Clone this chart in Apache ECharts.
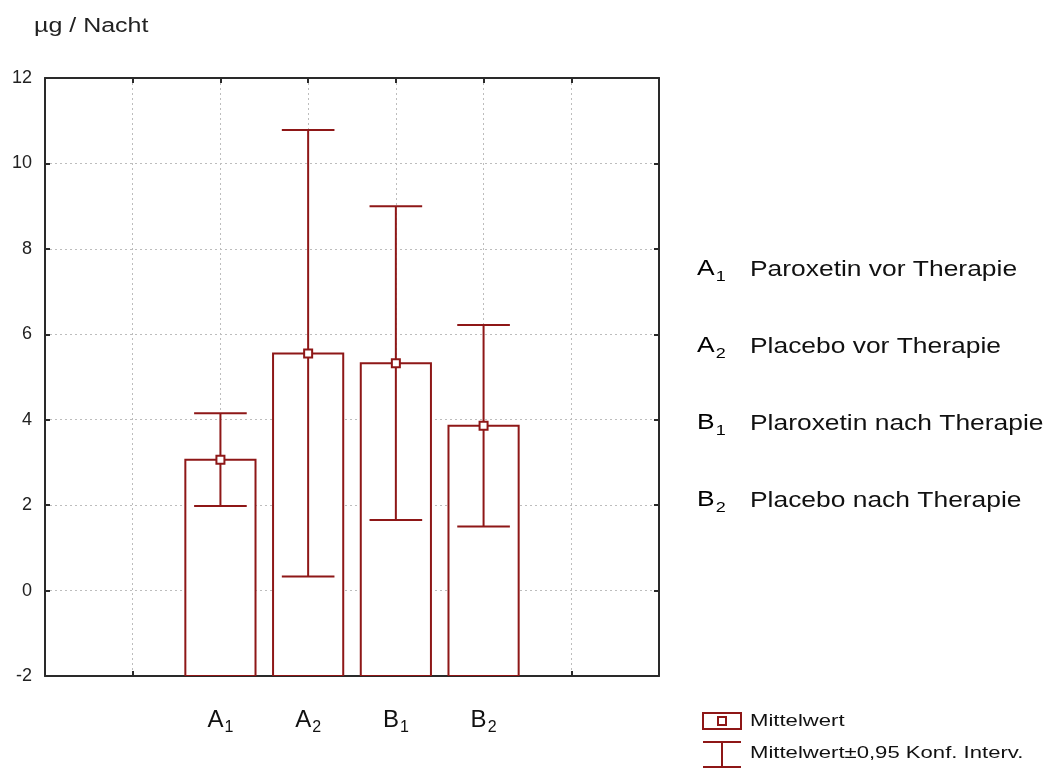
<!DOCTYPE html>
<html>
<head>
<meta charset="utf-8">
<script src="https://cdn.jsdelivr.net/npm/echarts@6/dist/echarts.min.js"></script>
<style>
  html, body { margin: 0; padding: 0; background: #fff; }
  #chart { width: 1051px; height: 769px; }
</style>
</head>
<body>
<div id="chart"></div>
<script>
  // Gruppen und Werte (Mittelwert, 95%-Konfidenzintervall)
  const categories = ['A1', 'A2', 'B1', 'B2'];
  const means = [3.06, 5.55, 5.32, 3.86];
  const ciLower = [1.98, 0.33, 1.65, 1.50];
  const ciUpper = [4.15, 10.78, 9.00, 6.22];
  const descriptions = [
    'Paroxetin vor Therapie',
    'Placebo vor Therapie',
    'Plaroxetin nach Therapie',
    'Placebo nach Therapie'
  ];
  const yTicks = [-2, 0, 2, 4, 6, 8, 10, 12];

  const RED = '#8e1717';
  const FRAME = '#2a2a2a';
  const TEXT = '#111';
  const FONT = 'Liberation Sans';
  const firstSlot = 2;   // erste Gruppe sitzt auf der 2. Gitterlinie
  const barHalf = 0.4;
  const capHalf = 0.3;
  const yMin = yTicks[0];
  const yMax = yTicks[yTicks.length - 1];

  const chart = echarts.init(document.getElementById('chart'));

  const points = categories.map((c, i) => [firstSlot + i, means[i], ciLower[i], ciUpper[i]]);

  function richFor(big, small, lh) {
    return {
      b: { fontSize: big, fontFamily: FONT, color: TEXT, lineHeight: lh, verticalAlign: 'bottom' },
      s: { fontSize: small, fontFamily: FONT, color: TEXT, lineHeight: lh, verticalAlign: 'bottom', padding: [0, 0, -4, 1] }
    };
  }

  function subLabel(name) {
    return '{b|' + name.charAt(0) + '}{s|' + name.slice(1) + '}';
  }

  const axisCommon = {
    type: 'value',
    axisLine: { show: true, onZero: false, lineStyle: { color: FRAME, width: 2 } },
    axisTick: { show: true, inside: true, length: 5, lineStyle: { color: FRAME, width: 2 } }
  };
  const gridLine = { show: true, lineStyle: { color: '#bdbdbd', type: [2, 3], width: 1 } };

  const legendItems = [];
  categories.forEach((c, i) => {
    const y = 270 + i * 77;
    legendItems.push({
      type: 'text', x: 697, y: y - 16, scaleX: 1.2,
      style: { text: subLabel(c), rich: richFor(22, 15, 26) }
    });
    legendItems.push({
      type: 'text', x: 750, y: y, scaleX: 1.2,
      style: { text: descriptions[i], fontSize: 22, fontFamily: FONT, fill: TEXT, verticalAlign: 'middle' }
    });
  });

  chart.setOption({
    backgroundColor: '#fff',
    animation: false,
    grid: { left: 45, top: 78, right: 392, bottom: 93, containLabel: false },
    xAxis: [
      Object.assign({}, axisCommon, {
        position: 'bottom', min: 0, max: 7, interval: 1,
        splitLine: gridLine,
        axisLabel: {
          margin: 28,
          formatter: v => {
            const c = categories[v - firstSlot];
            return c ? subLabel(c) : '';
          },
          rich: richFor(24, 16, 28)
        }
      }),
      Object.assign({}, axisCommon, {
        position: 'top', min: 0, max: 7, interval: 1,
        splitLine: { show: false }, axisLabel: { show: false }
      })
    ],
    yAxis: [
      Object.assign({}, axisCommon, {
        position: 'left', min: yMin, max: yMax, interval: 2,
        splitLine: gridLine,
        axisLabel: { margin: 13, fontSize: 18, fontFamily: FONT, color: '#222' }
      }),
      Object.assign({}, axisCommon, {
        position: 'right', min: yMin, max: yMax, interval: 2,
        splitLine: { show: false }, axisLabel: { show: false }
      })
    ],
    graphic: legendItems.concat([
      // Einheit oben links
      { type: 'text', x: 34, y: 26, scaleX: 1.25,
        style: { text: 'µg / Nacht', fontSize: 20, fontFamily: FONT, fill: '#222', verticalAlign: 'middle' } },
      // Legende unten: Mittelwert
      { type: 'rect', shape: { x: 703, y: 713, width: 38, height: 16 },
        style: { fill: '#fff', stroke: RED, lineWidth: 2 } },
      { type: 'rect', shape: { x: 718, y: 717, width: 8, height: 8 },
        style: { fill: '#fff', stroke: RED, lineWidth: 2 } },
      { type: 'text', x: 750, y: 721, scaleX: 1.3,
        style: { text: 'Mittelwert', fontSize: 17, fontFamily: FONT, fill: TEXT, verticalAlign: 'middle' } },
      // Legende unten: Konfidenzintervall
      { type: 'line', shape: { x1: 703, y1: 742, x2: 741, y2: 742 }, style: { stroke: RED, lineWidth: 2 } },
      { type: 'line', shape: { x1: 722, y1: 742, x2: 722, y2: 767 }, style: { stroke: RED, lineWidth: 2 } },
      { type: 'line', shape: { x1: 703, y1: 767, x2: 741, y2: 767 }, style: { stroke: RED, lineWidth: 2 } },
      { type: 'text', x: 750, y: 753, scaleX: 1.3,
        style: { text: 'Mittelwert±0,95 Konf. Interv.', fontSize: 17, fontFamily: FONT, fill: TEXT, verticalAlign: 'middle' } }
    ]),
    series: [
      {
        type: 'custom',
        name: 'Mittelwert',
        data: points,
        clip: true,
        z: 3,
        renderItem: (params, api) => {
          const x = api.value(0);
          const m = api.value(1);
          const lo = api.value(2);
          const hi = api.value(3);
          const tl = api.coord([x - barHalf, m]);
          const br = api.coord([x + barHalf, yMin]);
          const cTop = api.coord([x, hi]);
          const cBot = api.coord([x, lo]);
          const capL = api.coord([x - capHalf, hi])[0];
          const capR = api.coord([x + capHalf, hi])[0];
          const mid = api.coord([x, m]);
          const lineStyle = { stroke: RED, lineWidth: 2, fill: null };
          return {
            type: 'group',
            children: [
              { type: 'rect', shape: { x: tl[0], y: tl[1], width: br[0] - tl[0], height: br[1] - tl[1] },
                style: { fill: '#fff', stroke: RED, lineWidth: 2 } },
              { type: 'line', shape: { x1: cTop[0], y1: cTop[1], x2: cBot[0], y2: cBot[1] }, style: lineStyle },
              { type: 'line', shape: { x1: capL, y1: cTop[1], x2: capR, y2: cTop[1] }, style: lineStyle },
              { type: 'line', shape: { x1: capL, y1: cBot[1], x2: capR, y2: cBot[1] }, style: lineStyle },
              { type: 'rect', shape: { x: mid[0] - 4, y: mid[1] - 4, width: 8, height: 8 },
                style: { fill: '#fff', stroke: RED, lineWidth: 2 } }
            ]
          };
        }
      }
    ]
  });
</script>
</body>
</html>
